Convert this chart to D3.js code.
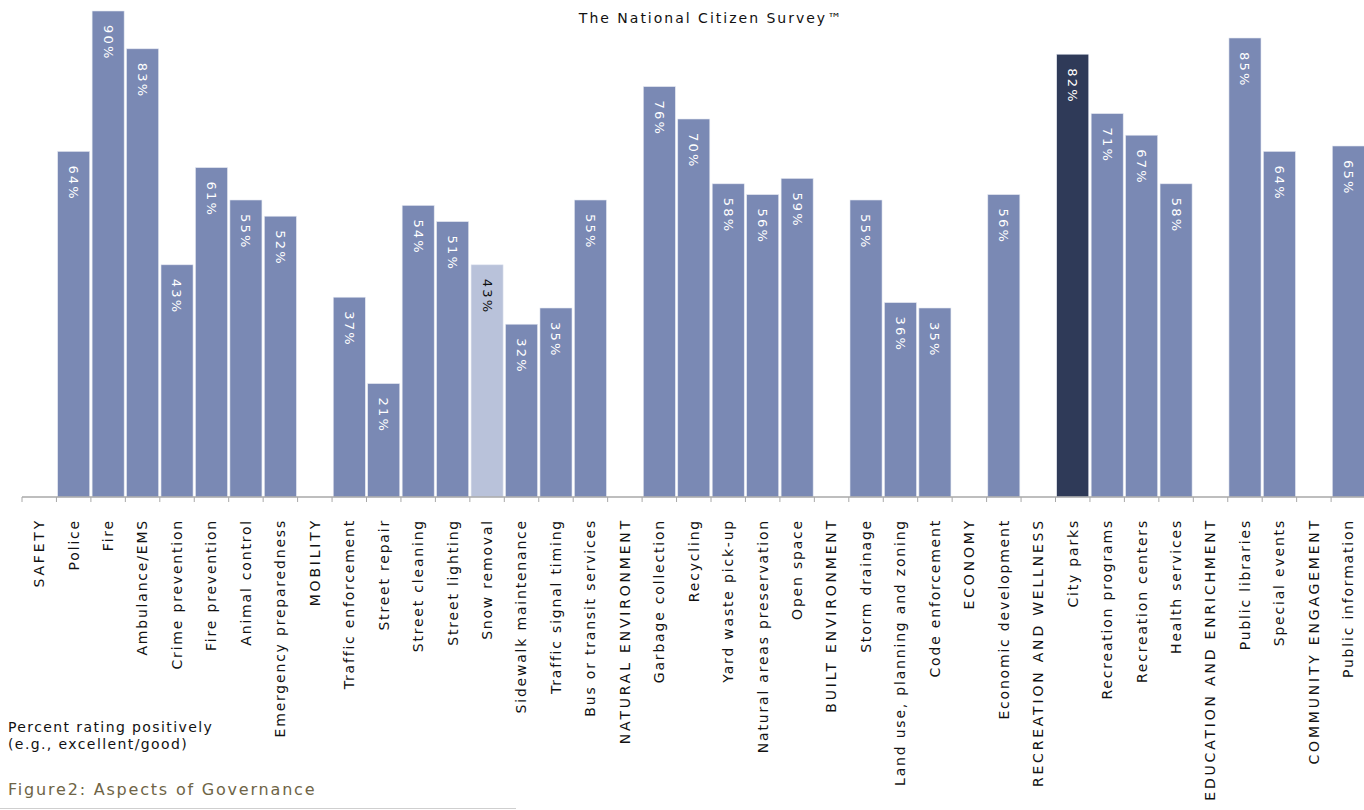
<!DOCTYPE html>
<html>
<head>
<meta charset="utf-8">
<script src="https://cdn.jsdelivr.net/npm/d3@7"></script>
<style>
  html, body { margin: 0; padding: 0; background: #fff; }
  svg { display: block; font-family: "DejaVu Sans", Verdana, sans-serif; }
</style>
</head>
<body>
<svg id="chart" width="1364" height="810"></svg>
<script>
// Categories in axis order; section headers carry no bar (null value)
const categories = [
  "SAFETY", "Police", "Fire", "Ambulance/EMS", "Crime prevention", "Fire prevention",
  "Animal control", "Emergency preparedness",
  "MOBILITY", "Traffic enforcement", "Street repair", "Street cleaning", "Street lighting",
  "Snow removal", "Sidewalk maintenance", "Traffic signal timing", "Bus or transit services",
  "NATURAL ENVIRONMENT", "Garbage collection", "Recycling", "Yard waste pick-up",
  "Natural areas preservation", "Open space",
  "BUILT ENVIRONMENT", "Storm drainage", "Land use, planning and zoning", "Code enforcement",
  "ECONOMY", "Economic development",
  "RECREATION AND WELLNESS", "City parks", "Recreation programs", "Recreation centers", "Health services",
  "EDUCATION AND ENRICHMENT", "Public libraries", "Special events",
  "COMMUNITY ENGAGEMENT", "Public information"
];

// Percent rating positively (null = section header)
const values = [
  null, 64, 90, 83, 43, 61, 55, 52,
  null, 37, 21, 54, 51, 43, 32, 35, 55,
  null, 76, 70, 58, 56, 59,
  null, 55, 36, 35,
  null, 56,
  null, 82, 71, 67, 58,
  null, 85, 64,
  null, 65
];

// Bars drawn in a different shade
const lightBars = ["Snow removal"];
const darkBars = ["City parks"];

const titleText = "The National Citizen Survey\u2122";
const noteLines = ["Percent rating positively", "(e.g., excellent/good)"];
const captionText = "Figure2: Aspects of Governance";

const data = categories.map((c, i) => ({ category: c, value: values[i] }));
const isHeader = c => c === c.toUpperCase();

const svg = d3.select("#chart");
const baseY = 497;

const x = d3.scaleBand()
  .domain(categories)
  .range([22, 22 + 34.45 * categories.length])
  .paddingInner(0.07)
  .paddingOuter(0.035);

const y = d3.scaleLinear()
  .domain([0, 100])
  .range([baseY, baseY - 540]);

const colorFor = d =>
  lightBars.includes(d.category) ? "#b9c2da" :
  darkBars.includes(d.category) ? "#2f3a58" : "#7a89b4";

// Bars
svg.append("g")
  .selectAll("rect")
  .data(data.filter(d => d.value != null))
  .join("rect")
  .attr("x", d => x(d.category))
  .attr("y", d => y(d.value))
  .attr("width", x.bandwidth())
  .attr("height", d => y(0) - y(d.value))
  .attr("fill", colorFor)
  .attr("stroke", "#e4e8f1")
  .attr("stroke-width", 0.6);

// Value labels, rotated, inside the top of each bar
svg.append("g")
  .selectAll("text")
  .data(data.filter(d => d.value != null))
  .join("text")
  .attr("transform", d => `translate(${x(d.category) + x.bandwidth() / 2},${y(d.value) + 14}) rotate(90)`)
  .attr("dy", "0.35em")
  .attr("text-anchor", "start")
  .attr("font-size", 13)
  .attr("letter-spacing", 2.2)
  .attr("fill", d => lightBars.includes(d.category) ? "#111" : "#fff")
  .text(d => d.value + "%");

// Category axis line
const xAxis = d3.axisBottom(x).tickSize(0).tickFormat("");
const axisG = svg.append("g")
  .attr("transform", `translate(0,${baseY})`)
  .call(xAxis);
axisG.select(".domain")
  .attr("stroke", "#a8a8a8")
  .attr("stroke-width", 1.5)
  .attr("d", `M22,0H1364`);

// Tick marks on category boundaries
const step = x.step();
const [r0] = x.range();
svg.append("g")
  .selectAll("line")
  .data(d3.range(categories.length + 1))
  .join("line")
  .attr("x1", i => r0 + i * step)
  .attr("x2", i => r0 + i * step)
  .attr("y1", baseY)
  .attr("y2", baseY + 5)
  .attr("stroke", "#a8a8a8")
  .attr("stroke-width", 1);

// Category labels, rotated to read upward; section headers set wider
svg.append("g")
  .selectAll("text")
  .data(categories)
  .join("text")
  .attr("transform", c => `translate(${x(c) + x.bandwidth() / 2},${baseY + (isHeader(c) ? 21 : 22)}) rotate(-90)`)
  .attr("dy", "0.35em")
  .attr("text-anchor", "end")
  .attr("font-size", 14)
  .attr("letter-spacing", c => isHeader(c) ? 2.8 : 1.8)
  .attr("fill", "#111")
  .text(c => c);

// Title
svg.append("text")
  .attr("x", 711)
  .attr("y", 23)
  .attr("text-anchor", "middle")
  .attr("font-size", 14)
  .attr("letter-spacing", 2)
  .attr("fill", "#111")
  .text(titleText);

// Axis note
svg.append("g")
  .selectAll("text")
  .data(noteLines)
  .join("text")
  .attr("x", 8)
  .attr("y", (d, i) => 732 + i * 17)
  .attr("font-size", 14)
  .attr("letter-spacing", 1.4)
  .attr("fill", "#111")
  .text(d => d);

// Figure caption with rule underneath
svg.append("text")
  .attr("x", 8)
  .attr("y", 795)
  .attr("font-size", 16)
  .attr("letter-spacing", 1.8)
  .attr("fill", "#6e6446")
  .text(captionText);

svg.append("line")
  .attr("x1", 0).attr("x2", 516)
  .attr("y1", 808.5).attr("y2", 808.5)
  .attr("stroke", "#cfcfcf")
  .attr("stroke-width", 1);
</script>
</body>
</html>
